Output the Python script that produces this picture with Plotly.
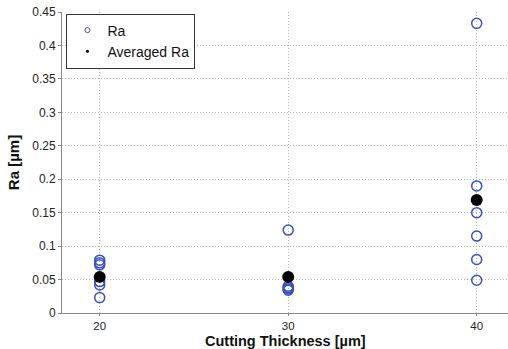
import plotly.graph_objects as go

ra_x = [20, 20, 20, 20, 20, 20,
        30, 30, 30, 30, 30,
        40, 40, 40, 40, 40, 40]
ra_y = [0.079, 0.075, 0.072, 0.047, 0.042, 0.023,
        0.124, 0.040, 0.038, 0.036, 0.034,
        0.433, 0.190, 0.150, 0.115, 0.080, 0.049]
avg_x = [20, 30, 40]
avg_y = [0.054, 0.054, 0.169]
x_ticks = [20, 30, 40]
y_ticks = [0, 0.05, 0.1, 0.15, 0.2, 0.25, 0.3, 0.35, 0.4, 0.45]
y_labels = ["0", "0.05", "0.1", "0.15", "0.2", "0.25", "0.3", "0.35", "0.4", "0.45"]

blue = "#3a4fc0"
fig = go.Figure()
fig.add_trace(go.Scatter(x=ra_x, y=ra_y, mode="markers", showlegend=False,
                         marker=dict(symbol="circle-open", size=10, color=blue,
                                     line=dict(width=1.5, color=blue))))
fig.add_trace(go.Scatter(x=avg_x, y=avg_y, mode="markers", showlegend=False,
                         marker=dict(symbol="circle", size=12, color="black")))
# legend entries (small markers as in reference)
fig.add_trace(go.Scatter(x=[None], y=[None], mode="markers", name="Ra",
                         marker=dict(symbol="circle-open", size=5, color=blue,
                                     line=dict(width=1, color=blue))))
fig.add_trace(go.Scatter(x=[None], y=[None], mode="markers", name="Averaged Ra",
                         marker=dict(symbol="circle", size=3, color="black")))

axis_common = dict(showgrid=True, gridcolor="#b4b4b4", griddash="1px,2px", gridwidth=1,
                   showline=True, linecolor="#888888", linewidth=1,
                   ticks="outside", ticklen=3, tickcolor="#888888",
                   tickfont=dict(family="Liberation Sans, Arial", size=12, color="#222"),
                   zeroline=False)

fig.update_xaxes(range=[18, 41.66], tickvals=x_ticks, **axis_common)
fig.update_xaxes(ticklen=2, tickfont=dict(family="Liberation Sans, Arial", size=11.5, color="#222"))
fig.update_yaxes(range=[0, 0.45], tickvals=y_ticks, ticktext=y_labels, **axis_common,
                 title=dict(text="<b>Ra [µm]</b>", standoff=8,
                            font=dict(family="Liberation Sans, Arial", size=15, color="#111")))

fig.add_annotation(text="<b>Cutting Thickness [µm]</b>", xref="paper", yref="paper",
                   x=0.5, y=-36 / 301, xanchor="center", yanchor="bottom", yshift=-1,
                   showarrow=False, borderpad=0,
                   font=dict(family="Liberation Sans, Arial", size=14.5, color="#111"))

fig.update_layout(width=508, height=349, margin=dict(l=62, r=0, t=12, b=36),
                  plot_bgcolor="white", paper_bgcolor="white",
                  legend=dict(x=0.01, y=0.995, xanchor="left", yanchor="top",
                              bgcolor="white", bordercolor="#333", borderwidth=1,
                              font=dict(family="Liberation Sans, Arial", size=14, color="#111"),
                              tracegroupgap=0, itemwidth=30))
fig.write_html("out.html")
